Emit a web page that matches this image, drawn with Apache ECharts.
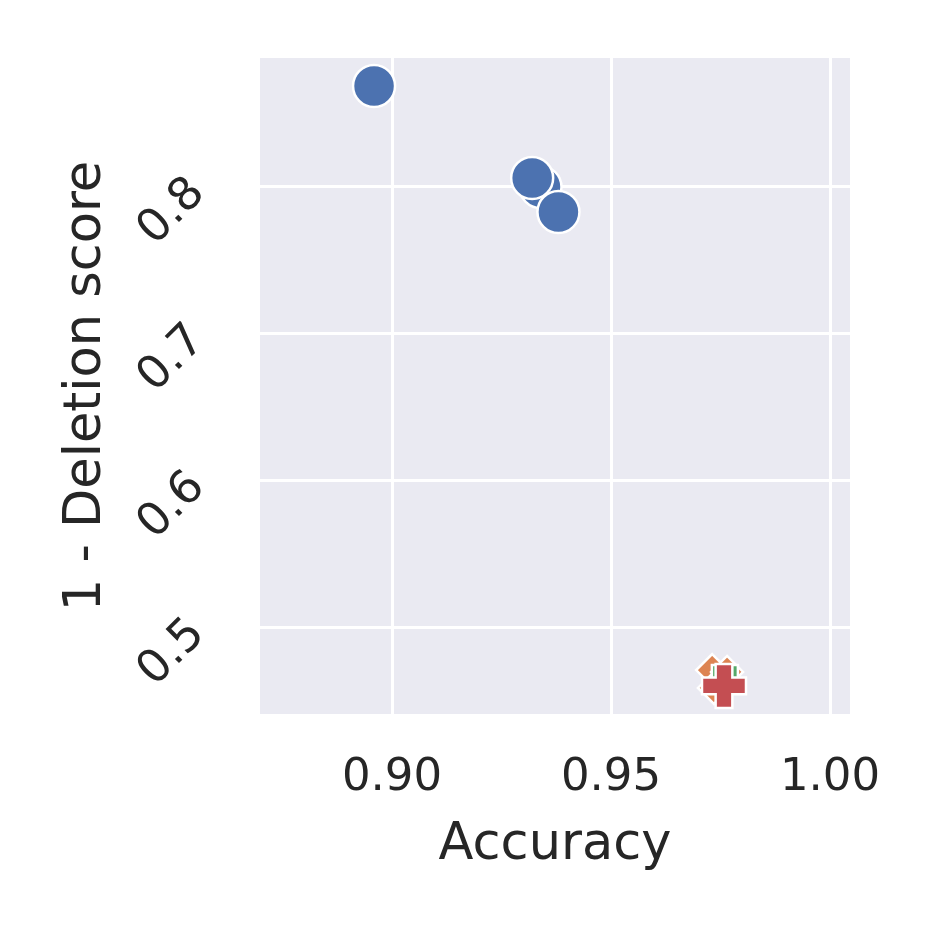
<!DOCTYPE html>
<html>
<head>
<meta charset="utf-8">
<script src="https://cdn.jsdelivr.net/npm/echarts@6/dist/echarts.min.js"></script>
<style>
  html, body { margin: 0; padding: 0; background: #fff; }
  #chart { width: 934px; height: 934px; }
</style>
</head>
<body>
<div id="chart"></div>
<script>
// data
const xTicks = [0.90, 0.95, 1.00];
const yTicks = [0.5, 0.6, 0.7, 0.8];

const blueAcc = [0.9339, 0.9320, 0.8959, 0.9380];
const blueDel = [0.7993, 0.8054, 0.8680, 0.7823];

const orangeAcc = [0.9731, 0.9765, 0.9735];
const orangeDel = [0.4707, 0.4694, 0.4585];

const greenAcc = [0.9760];
const greenDel = [0.4653];

const redAcc = [0.9758];
const redDel = [0.4599];

function pairs(xs, ys) {
  return xs.map((x, i) => [x, ys[i]]);
}

const diamond = 'path://M0,-1 L1,0 L0,1 L-1,0 Z';
const plus = 'path://M-1,-0.38 L-0.38,-0.38 L-0.38,-1 L0.38,-1 L0.38,-0.38 L1,-0.38 L1,0.38 L0.38,0.38 L0.38,1 L-0.38,1 L-0.38,0.38 L-1,0.38 Z';

const font = 'DejaVu Sans';

const chart = echarts.init(document.getElementById('chart'), null, { renderer: 'canvas' });

const option = {
  backgroundColor: '#ffffff',
  animation: false,
  grid: {
    left: 260,
    right: 84,
    top: 58,
    bottom: 220,
    show: true,
    backgroundColor: '#EAEAF2',
    borderWidth: 0
  },
  xAxis: {
    type: 'value',
    min: 0.86986,
    max: 1.00457,
    name: 'Accuracy',
    nameLocation: 'middle',
    nameGap: 106,
    nameTextStyle: { fontFamily: font, fontSize: 51, color: '#262626' },
    axisLine: { show: false },
    axisTick: { show: false, customValues: xTicks },
    axisLabel: {
      customValues: xTicks,
      formatter: v => v.toFixed(2),
      fontFamily: font,
      fontSize: 45,
      color: '#262626',
      margin: 42
    },
    splitLine: { show: true, lineStyle: { color: '#ffffff', width: 3 } }
  },
  yAxis: {
    type: 'value',
    min: 0.4408,
    max: 0.8871,
    name: '1 - Deletion score',
    nameLocation: 'middle',
    nameGap: 148,
    nameRotate: 90,
    nameTextStyle: { fontFamily: font, fontSize: 51, color: '#262626' },
    axisLine: { show: false },
    axisTick: { show: false, customValues: yTicks },
    axisLabel: {
      customValues: yTicks,
      formatter: v => v.toFixed(1),
      rotate: 45,
      fontFamily: font,
      fontSize: 46,
      color: '#262626',
      margin: 62
    },
    splitLine: { show: true, lineStyle: { color: '#ffffff', width: 3 } }
  },
  series: [
    {
      type: 'scatter',
      data: pairs(blueAcc, blueDel),
      symbol: 'circle',
      symbolSize: 42,
      itemStyle: { color: '#4C72B0', borderColor: '#ffffff', borderWidth: 2.5, opacity: 1 },
      z: 2
    },
    {
      type: 'scatter',
      data: pairs(orangeAcc, orangeDel),
      symbol: diamond,
      symbolSize: 32,
      itemStyle: { color: '#DD8452', borderColor: '#ffffff', borderWidth: 2.5, opacity: 1 },
      z: 3
    },
    {
      type: 'scatter',
      data: pairs(greenAcc, greenDel),
      symbol: 'rect',
      symbolSize: 26,
      itemStyle: { color: '#55A868', borderColor: '#ffffff', borderWidth: 2.5, opacity: 1 },
      z: 4
    },
    {
      type: 'scatter',
      data: pairs(redAcc, redDel),
      symbol: plus,
      symbolSize: 44,
      itemStyle: { color: '#C44E52', borderColor: '#ffffff', borderWidth: 2.5, opacity: 1 },
      z: 5
    }
  ]
};

chart.setOption(option);
</script>
</body>
</html>
